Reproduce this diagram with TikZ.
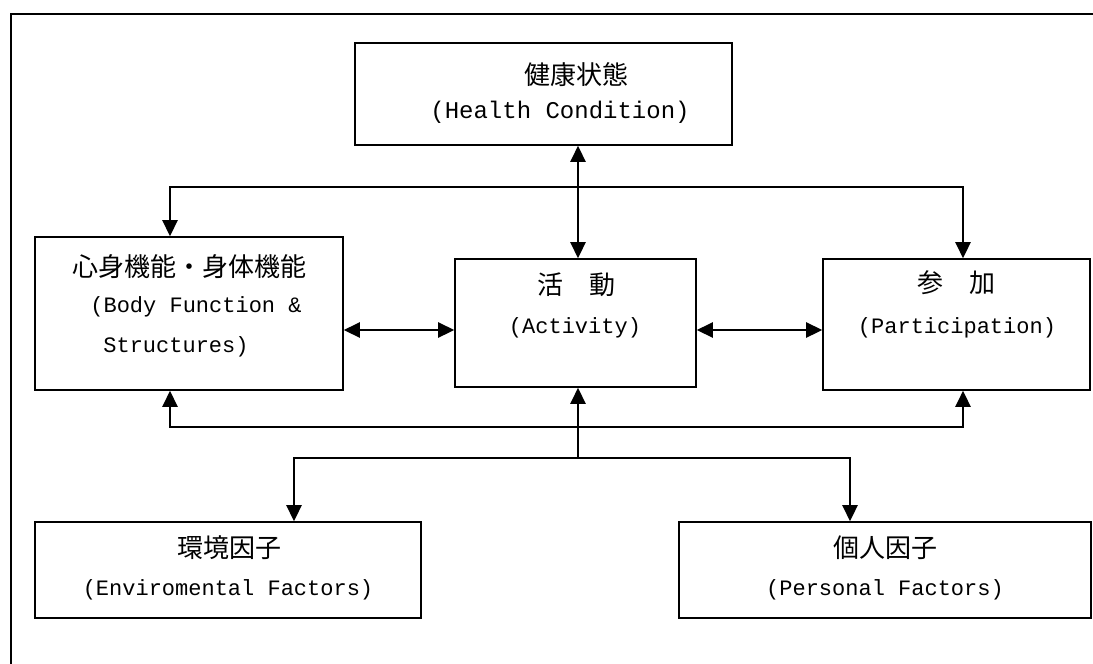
\documentclass[tikz,border=0pt]{standalone}
\usepackage{fontspec}
\newfontfamily\cjk{Noto Sans CJK JP}
\newfontfamily\lat{Liberation Mono}
\usetikzlibrary{arrows.meta,calc}
\tikzset{
  box/.style={draw, line width=1.6pt, rectangle, inner sep=0pt},
  jp/.style={font=\cjk\fontsize{26}{30}\selectfont, inner sep=0pt, anchor=center},
  en/.style={font=\lat\fontsize{22}{26}\selectfont, inner sep=0pt, anchor=center},
  enbig/.style={font=\lat\fontsize{24}{28}\selectfont, inner sep=0pt, anchor=center},
  conn/.style={line width=2.6pt, -{Triangle[length=16pt,width=15pt]}},
  dconn/.style={line width=2.6pt, {Triangle[length=16pt,width=15pt]}-{Triangle[length=16pt,width=15pt]}},
  frame/.style={line width=2.2pt}
}
\begin{document}
\begin{tikzpicture}[x=1pt,y=-1pt]
\useasboundingbox (0,0) rectangle (1093,664);
\coordinate (fa) at (11,664);
\coordinate (fb) at (11,14);
\coordinate (fc) at (1093,14);
\draw[frame] (fa) -- (fb) -- (fc);

% boxes
\node[box, minimum width=377pt, minimum height=102pt] (health) at (543.5,94) {};
\node[box, minimum width=308pt, minimum height=153pt] (body) at (189,313.5) {};
\node[box, minimum width=241pt, minimum height=128pt] (act) at (575.5,323) {};
\node[box, minimum width=267pt, minimum height=131pt] (part) at (956.5,324.5) {};
\node[box, minimum width=386pt, minimum height=96pt] (env) at (228,570) {};
\node[box, minimum width=412pt, minimum height=96pt] (pers) at (885,570) {};

% texts
\node[jp] (t1) at (576,75) {健康状態};
\node[enbig] (t2) at (560,112) {(Health Condition)};
\node[jp] (t3) at (189,267) {心身機能・身体機能};
\node[en] (t4) at (196,307) {(Body Function \&};
\node[en] (t5) at (176,347) {Structures)};
\node[jp] (t6) at (576,285) {活　動};
\node[en] (t7) at (575,328) {(Activity)};
\node[jp] (t8) at (956,283) {参　加};
\node[en] (t9) at (957,328) {(Participation)};
\node[jp] (t10) at (229,548) {環境因子};
\node[en] (t11) at (228,590) {(Enviromental Factors)};
\node[jp] (t12) at (885,548) {個人因子};
\node[en] (t13) at (885,590) {(Personal Factors)};

% guide coordinates
\coordinate (hx) at (578,0);
\coordinate (bx) at (170,0);
\coordinate (px) at (963,0);
\coordinate (ex) at (294,0);
\coordinate (rx) at (850,0);
\coordinate (ty) at (0,187);
\coordinate (by) at (0,427);
\coordinate (ly) at (0,458);
\coordinate (my) at (0,330);

% connectors
\draw[dconn] (health.south -| hx) -- (act.north -| hx);
\draw[dconn] (body.north -| bx) -- (bx |- ty) -- (px |- ty) -- (part.north -| px);
\draw[dconn] (body.south -| bx) -- (bx |- by) -- (px |- by) -- (part.south -| px);
\draw[conn] (hx |- ly) -- (act.south -| hx);
\draw[dconn] (env.north -| ex) -- (ex |- ly) -- (rx |- ly) -- (pers.north -| rx);
\draw[dconn] (body.east |- my) -- (act.west |- my);
\draw[dconn] (act.east |- my) -- (part.west |- my);
\end{tikzpicture}
\end{document}
